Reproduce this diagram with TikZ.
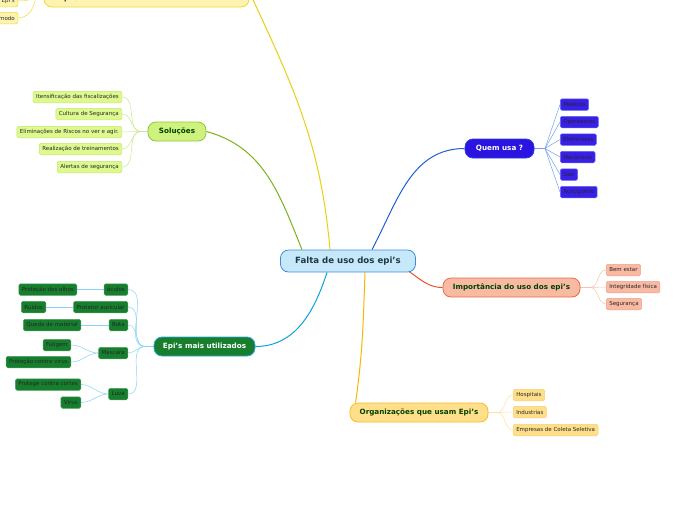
\documentclass[tikz,border=0pt]{standalone}
\usepackage{fontspec}
\setmainfont{DejaVu Sans}
\usetikzlibrary{calc,positioning,backgrounds}

% palette
\definecolor{centralfill}{HTML}{C6E8FA}
\definecolor{centraldraw}{HTML}{3B8ED6}
\definecolor{titletext}{HTML}{1B3A45}
\definecolor{topfill}{HTML}{FFF3B0}
\definecolor{topdraw}{HTML}{F0D840}
\definecolor{topline}{HTML}{E8D010}
\definecolor{solfill}{HTML}{CFF27E}
\definecolor{soldraw}{HTML}{8CC83C}
\definecolor{solline}{HTML}{7AB317}
\definecolor{solleaf}{HTML}{DDF98F}
\definecolor{solleafdraw}{HTML}{C4E86A}
\definecolor{soltwig}{HTML}{C8E890}
\definecolor{quemfill}{HTML}{2B14E0}
\definecolor{quemdraw}{HTML}{2A3FD8}
\definecolor{quemline}{HTML}{1E5FD3}
\definecolor{quemleaf}{HTML}{3A1FE6}
\definecolor{quemleafdraw}{HTML}{5A6AF0}
\definecolor{quemtwig}{HTML}{6FA0F0}
\definecolor{impfill}{HTML}{F9BAA4}
\definecolor{impdraw}{HTML}{E86A48}
\definecolor{impline}{HTML}{E8532A}
\definecolor{impleafdraw}{HTML}{F3A085}
\definecolor{imptwig}{HTML}{F9C0A8}
\definecolor{episfill}{HTML}{177E2E}
\definecolor{episdraw}{HTML}{2AA8E0}
\definecolor{episline}{HTML}{0EA0E0}
\definecolor{episleafdraw}{HTML}{4AA060}
\definecolor{epistwig}{HTML}{88D4F4}
\definecolor{orgfill}{HTML}{FFDF8A}
\definecolor{orgdraw}{HTML}{F4BC2A}
\definecolor{orgline}{HTML}{F5B800}
\definecolor{orgleafdraw}{HTML}{F8D070}
\definecolor{orgtwig}{HTML}{FFE0A0}

\begin{document}
\begin{tikzpicture}[
  x=1pt, y=-1pt,
  topic/.style={draw, rounded corners=8pt, line width=0.8pt, minimum height=19pt, inner xsep=6pt,
    text=titletext, font=\fontsize{7.2}{9}\selectfont\bfseries},
  leaf/.style={draw, rounded corners=1.5pt, line width=0.5pt, minimum height=11.5pt, inner xsep=3pt,
    inner ysep=1pt, text=black!85, font=\fontsize{5.5}{6.5}\selectfont},
  branch/.style={line width=1pt},
  twig/.style={line width=0.5pt},
]
  \useasboundingbox (0,0) rectangle (696,520);
  \clip (0,0) rectangle (696,520);

  % Centre
  \node[topic, fill=centralfill, draw=centraldraw, minimum width=135pt, minimum height=22pt,
    font=\fontsize{8.6}{10}\selectfont\bfseries] (central) at (348,261) {Falta de uso dos epi's};

  % Top branch (cut by the page edge)
  \node[topic, fill=topfill, draw=topdraw, minimum width=205pt, minimum height=30pt] (riscos) at (146.5,-8) {};
  \node[font=\fontsize{7.2}{9}\selectfont\bfseries, text=titletext] (riscostxt) at (69,-1) {Epi's};
  \node[leaf, fill=topfill, draw=topdraw, anchor=east] (epileaf) at (18,1) {Epi's};
  \node[leaf, fill=topfill, draw=topdraw, anchor=east] (modoleaf) at (18,18) {modo};

  % Solutions
  \node[topic, fill=solfill, draw=soldraw, minimum width=58pt, text=green!25!black] (sol) at (177,131.5) {Soluções};
  \node[leaf, fill=solleaf, draw=solleafdraw, anchor=east] (fiscal) at (122,97) {Itensificação das fiscalizações};
  \node[leaf, fill=solleaf, draw=solleafdraw, anchor=east] (cultura) at (122,114) {Cultura de Segurança};
  \node[leaf, fill=solleaf, draw=solleafdraw, anchor=east] (riscos2) at (122,132) {Eliminações de Riscos no ver e agir.};
  \node[leaf, fill=solleaf, draw=solleafdraw, anchor=east] (treino) at (122,149) {Realização de treinamentos};
  \node[leaf, fill=solleaf, draw=solleafdraw, anchor=east] (alertas) at (122,167) {Alertas de segurança};

  % Who uses
  \node[topic, fill=quemfill, draw=quemdraw, minimum width=69pt, text=white] (quem) at (499.5,148.5) {Quem usa ?};
  \node[leaf, fill=quemleaf, draw=quemleafdraw, anchor=west] (medicos) at (560,104.5) {Médicos};
  \node[leaf, fill=quemleaf, draw=quemleafdraw, anchor=west] (operadores) at (560,122) {Operadores};
  \node[leaf, fill=quemleaf, draw=quemleafdraw, anchor=west] (eletricistas) at (560,139.5) {Eletricistas};
  \node[leaf, fill=quemleaf, draw=quemleafdraw, anchor=west] (mecanicos) at (560,157) {Mecânicos};
  \node[leaf, fill=quemleaf, draw=quemleafdraw, anchor=west] (gari) at (560,174.5) {Gari};
  \node[leaf, fill=quemleaf, draw=quemleafdraw, anchor=west] (acougueiro) at (560,192) {Açougueiro};

  % Importance
  \node[topic, fill=impfill, draw=impdraw, minimum width=137pt, text=green!25!black] (imp) at (511.5,287.5) {Importância do uso dos epi's};
  \node[leaf, fill=impfill, draw=impleafdraw, anchor=west] (bemestar) at (606,270) {Bem estar};
  \node[leaf, fill=impfill, draw=impleafdraw, anchor=west] (integridade) at (606,287) {Integridade física};
  \node[leaf, fill=impfill, draw=impleafdraw, anchor=west] (seguranca) at (606,304) {Segurança};

  % Most used PPE
  \node[topic, fill=episfill, draw=episdraw, minimum width=101pt, text=white] (epis) at (204.5,346.5) {Epi's mais utilizados};
  \node[leaf, fill=episfill, draw=episleafdraw, anchor=east] (oculos) at (128,289.5) {óculos};
  \node[leaf, fill=episfill, draw=episleafdraw, anchor=east] (protetor) at (128,307) {Protetor auricular};
  \node[leaf, fill=episfill, draw=episleafdraw, anchor=east] (bota) at (128,325) {Bota};
  \node[leaf, fill=episfill, draw=episleafdraw, anchor=east] (mascara) at (128,353) {Mascara};
  \node[leaf, fill=episfill, draw=episleafdraw, anchor=east] (luva) at (128,394) {Luva};
  \node[leaf, fill=episfill, draw=episleafdraw, anchor=east] (olhos) at (77,289.5) {Proteção dos olhos};
  \node[leaf, fill=episfill, draw=episleafdraw, anchor=east] (ruidos) at (46,307) {Ruidos};
  \node[leaf, fill=episfill, draw=episleafdraw, anchor=east] (queda) at (81,325) {Queda de material};
  \node[leaf, fill=episfill, draw=episleafdraw, anchor=east] (fuligem) at (71,345) {Fuligem};
  \node[leaf, fill=episfill, draw=episleafdraw, anchor=east] (virus1) at (71,362) {Proteção contra virus};
  \node[leaf, fill=episfill, draw=episleafdraw, anchor=east] (cortes) at (81,384.5) {Protege contra cortes};
  \node[leaf, fill=episfill, draw=episleafdraw, anchor=east] (virus2) at (81,402.5) {Virus};

  % Organisations
  \node[topic, fill=orgfill, draw=orgdraw, minimum width=138pt, text=green!25!black] (org) at (419,412.5) {Organizações que usam Epi's};
  \node[leaf, fill=orgfill, draw=orgleafdraw, anchor=west] (hospitais) at (513,395) {Hospitais};
  \node[leaf, fill=orgfill, draw=orgleafdraw, anchor=west] (industrias) at (513,412) {Industrias};
  \node[leaf, fill=orgfill, draw=orgleafdraw, anchor=west] (coleta) at (513,430) {Empresas de Coleta Seletiva};

  \coordinate (tophub) at (36,-8);
  \coordinate (solhub) at (141,131.5);
  \coordinate (quemhub) at (545,148.5);
  \coordinate (imphub) at (590,287.5);
  \coordinate (epihub) at (145,346.5);
  \coordinate (orghub) at (497,412.5);

  \begin{scope}[on background layer]
    \clip (0,0) rectangle (696,520);
    % main branches
    \draw[branch, topline] ($(central.north)+(-18,0)$) to[out=95,in=-65] (riscos.east);
    \draw[branch, solline] ($(central.north)+(-46,0)$) to[out=112,in=-15] (sol.east);
    \draw[branch, quemline] ($(central.north)+(24,0)$) to[out=62,in=180] (quem.west);
    \draw[branch, impline] ($(central.east)+(-11,8)$) to[out=-30,in=180] (imp.west);
    \draw[branch, episline] ($(central.south)+(-21,0)$) to[out=-108,in=0] (epis.east);
    \draw[branch, orgline] ($(central.south)+(17,0)$) to[out=-92,in=82] ($(org.north west)+(6,0)$);

    % top twigs
    \draw[twig, topdraw] (riscos.west) -- (tophub);
    \foreach \n in {epileaf,modoleaf}
      \draw[twig, topdraw] (\n.east) to[out=0,in=-90] (tophub);

    % solution twigs
    \draw[twig, soltwig] (sol.west) -- (solhub);
    \foreach \n in {fiscal,cultura,riscos2,treino,alertas}
      \draw[twig, soltwig] (\n.east) to[out=0,in=180] (solhub);

    % who-uses twigs
    \draw[twig, quemtwig] (quem.east) -- (quemhub);
    \foreach \n in {medicos,operadores,eletricistas,mecanicos,gari,acougueiro}
      \draw[twig, quemtwig] (quemhub) -- (\n.west);

    % importance twigs
    \draw[twig, imptwig] (imp.east) -- (imphub);
    \foreach \n in {bemestar,integridade,seguranca}
      \draw[twig, imptwig] (imphub) to[out=0,in=180] (\n.west);

    % PPE twigs
    \draw[twig, epistwig] (epis.west) -- (epihub);
    \foreach \n in {oculos,protetor,bota,mascara,luva}
      \draw[twig, epistwig] (epihub) to[out=180,in=0] (\n.east);
    \draw[twig, epistwig] (olhos.east) -- (oculos.west);
    \draw[twig, epistwig] (ruidos.east) -- (protetor.west);
    \draw[twig, epistwig] (queda.east) -- (bota.west);
    \foreach \n in {fuligem,virus1}
      \draw[twig, epistwig] (\n.east) to[out=0,in=180] (mascara.west);
    \foreach \n in {cortes,virus2}
      \draw[twig, epistwig] (\n.east) to[out=0,in=180] (luva.west);

    % organisation twigs
    \draw[twig, orgtwig] (org.east) -- (orghub);
    \foreach \n in {hospitais,industrias,coleta}
      \draw[twig, orgtwig] (orghub) to[out=0,in=180] (\n.west);
  \end{scope}
\end{tikzpicture}
\end{document}
